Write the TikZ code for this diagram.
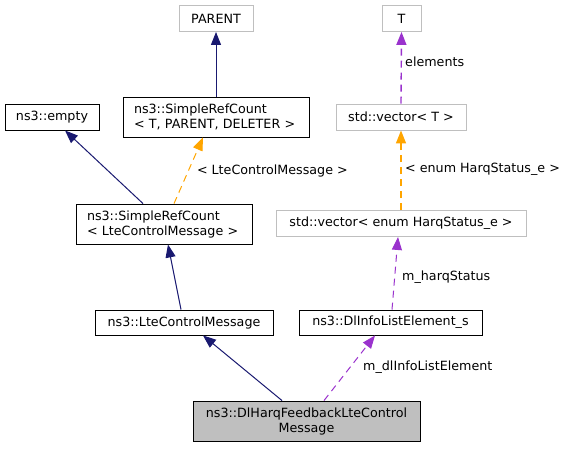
\documentclass[tikz,border=0pt]{standalone}
\usepackage{fontspec}
\setmainfont{DejaVu Sans}
\usetikzlibrary{arrows.meta,calc}
\definecolor{navy}{HTML}{191970}
\definecolor{purp}{HTML}{9A32CD}
\definecolor{orng}{HTML}{FFA500}
\definecolor{lgray}{HTML}{BFBFBF}
\begin{document}
\begin{tikzpicture}[x=1pt,y=-1pt,
  every node/.style={font=\fontsize{12.7}{15}\selectfont, inner sep=0pt},
  cls/.style={draw=black, line width=0.9pt, fill=white, rectangle},
  ext/.style={draw=lgray, line width=0.9pt, fill=white, rectangle},
  inh/.style={draw=navy, line width=1pt, -{Triangle[length=13pt,width=10pt]}},
  tpl/.style={draw=orng, line width=1pt, dash pattern=on 7pt off 5pt, -{Triangle[length=13pt,width=10pt]}},
  use/.style={draw=purp, line width=1pt, dash pattern=on 7pt off 5pt, -{Triangle[length=13pt,width=10pt]}},
  lbl/.style={anchor=west, font=\fontsize{12.7}{15}\selectfont}
]
\useasboundingbox (0,0) rectangle (569,448);
% nodes
\node[ext, minimum width=74pt, minimum height=26pt] (parent) at (216,18.5) {PARENT};
\node[ext, minimum width=39pt, minimum height=26pt] (T) at (401.5,18.5) {T};
\node[cls, minimum width=94pt, minimum height=26pt] (empty) at (52,117) {ns3::empty};
\node[cls, minimum width=186pt, minimum height=40pt, text width=164pt, align=left] (srct) at (216,117) {ns3::SimpleRefCount\\< T, PARENT, DELETER >};
\node[ext, minimum width=130pt, minimum height=26pt] (vect) at (401,117) {std::vector< T >};
\node[cls, minimum width=176pt, minimum height=40pt, text width=154pt, align=left] (srcl) at (164,224) {ns3::SimpleRefCount\\< LteControlMessage >};
\node[ext, minimum width=250pt, minimum height=26pt] (vece) at (401,223.5) {std::vector< enum HarqStatus\_e >};
\node[cls, minimum width=178pt, minimum height=25pt] (lcm) at (184,322.5) {ns3::LteControlMessage};
\node[cls, minimum width=183pt, minimum height=25pt] (dlinfo) at (390.5,322.5) {ns3::DlInfoListElement\_s};
\node[cls, fill=lgray, minimum width=227pt, minimum height=40pt, align=center] (dlh) at (306.5,421) {ns3::DlHarqFeedbackLteControl\\Message};
% edges
\draw[inh] (srct.north) -- (parent.south);
\draw[inh] ([xshift=-21pt]srcl.north) -- ([xshift=13pt]empty.south);
\draw[tpl] ([xshift=10pt]srcl.north) -- node[lbl, pos=0.5, xshift=8pt] (l1) {< LteControlMessage >} ([xshift=-13pt]srct.south);
\draw[inh] ([xshift=-3pt]lcm.north) -- ([xshift=4pt]srcl.south);
\draw[inh] ([xshift=-24.5pt]dlh.north) -- ([xshift=19pt]lcm.south);
\draw[use] ([xshift=17.5pt]dlh.north) -- ([xshift=-15.5pt]dlinfo.south);
\node[lbl] (l2) at (363,367) {m\_dlInfoListElement};
\draw[use] ([xshift=1.5pt]dlinfo.north) -- ([xshift=-3pt]vece.south);
\node[lbl] (l3) at (402,277) {m\_harqStatus};
\draw[tpl, line width=1.4pt] (vece.north) -- (vect.south);
\node[lbl] (l4) at (405,169) {< enum HarqStatus\_e >};
\draw[use, line width=1.4pt] (vect.north) -- (T.south);
\node[lbl] (l5) at (405,62) {elements};
\end{tikzpicture}
\end{document}
